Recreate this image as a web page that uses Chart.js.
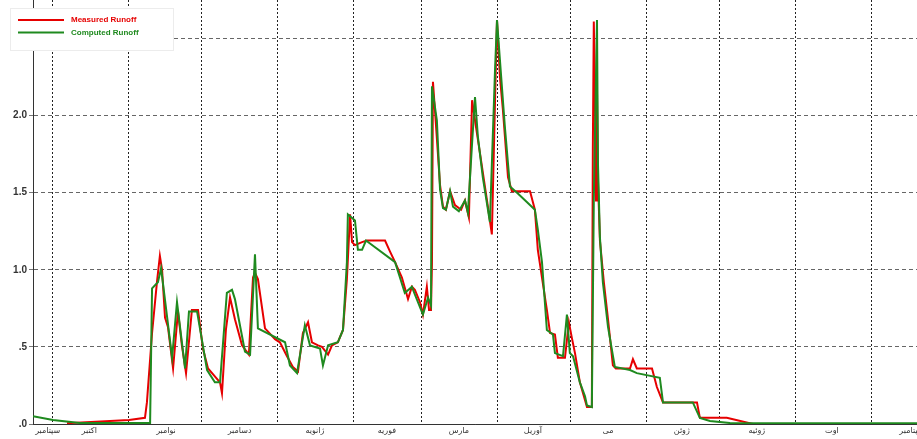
<!DOCTYPE html>
<html>
<head>
<meta charset="utf-8">
<script src="https://cdn.jsdelivr.net/npm/chart.js@4"></script>
<style>
  body { margin: 0; background: #fff; }
</style>
</head>
<body>
<canvas id="runoffChart" width="917" height="439"></canvas>
<script>
// day 0 = first day of the water year (late September)
const monthStarts = [8, 39, 69, 100, 131, 159, 190, 220, 251, 281, 312, 343];
const monthLabelDays = [6, 23, 54.4, 84.5, 115.3, 144.8, 174.2, 204.5, 235.2, 265.4, 296.1, 326.8, 359.5];
const monthNames = ["سپتامبر", "اکتبر", "نوامبر", "دسامبر", "ژانویه", "فوریه", "مارس",
  "آوریل", "می", "ژوئن", "ژوئیه", "اوت", "سپتامبر"];

const measuredDays = [
  13.9, 39.3, 45.8, 46.6, 48.7, 50.7, 51.9, 52.8, 54.0, 55.2,
  57.3, 59.3, 60.9, 62.6, 65.0, 67.5, 69.5, 71.6, 76.5, 77.3,
  78.9, 80.6, 82.6, 85.5, 88.3, 90.0, 90.8, 92.0, 94.9, 99.0,
  101.0, 103.9, 106.3, 108.4, 110.4, 112.5, 114.1, 116.6, 118.2, 120.7,
  122.3, 124.7, 126.8, 128.4, 129.7, 130.5, 131.7, 134.6, 136.6, 144.0,
  146.0, 148.1, 150.9, 153.4, 155.0, 156.2, 158.3, 159.5, 161.1, 162.0,
  162.8, 163.2, 163.6, 164.4, 166.5, 167.7, 168.9, 170.6, 172.6, 175.1,
  176.7, 178.3, 179.6, 180.8, 182.8, 185.7, 187.7, 189.0, 189.8, 191.0,
  192.2, 194.3, 195.9, 203.3, 205.3, 206.5, 208.2, 210.2, 211.5, 213.5,
  214.7, 217.6, 219.2, 220.4, 221.7, 223.7, 226.6, 228.6, 229.0, 229.4,
  229.9, 230.3, 230.7, 231.1, 231.9, 233.5, 235.2, 237.2, 238.4, 244.2,
  245.4, 247.0, 253.2, 255.2, 257.7, 271.6, 272.8, 283.8, 294.5
];
const measuredRunoff = [
  0.005, 0.026, 0.04, 0.14, 0.59, 0.92, 1.09, 1.00, 0.69, 0.63,
  0.36, 0.73, 0.51, 0.33, 0.74, 0.74, 0.49, 0.36, 0.27, 0.20,
  0.61, 0.82, 0.68, 0.51, 0.45, 0.95, 0.98, 0.94, 0.62, 0.55,
  0.53, 0.44, 0.37, 0.34, 0.59, 0.66, 0.53, 0.51, 0.50, 0.45,
  0.51, 0.53, 0.61, 0.94, 1.36, 1.18, 1.16, 1.18, 1.19, 1.19,
  1.12, 1.05, 0.95, 0.81, 0.89, 0.87, 0.79, 0.71, 0.89, 0.74,
  0.74, 1.05, 2.22, 2.04, 1.55, 1.41, 1.39, 1.51, 1.42, 1.39,
  1.45, 1.34, 2.10, 1.97, 1.76, 1.45, 1.23, 2.10, 2.62, 2.25,
  2.04, 1.60, 1.51, 1.51, 1.39, 1.13, 0.95, 0.74, 0.59, 0.58,
  0.43, 0.43, 0.66, 0.56, 0.46, 0.27, 0.11, 0.11, 1.78, 2.61,
  2.10, 1.45, 2.17, 1.58, 1.19, 0.92, 0.68, 0.38, 0.36, 0.36,
  0.42, 0.36, 0.36, 0.24, 0.14, 0.14, 0.04, 0.04, 0.0
];

const computedDays = [
  0, 8.2, 19.2, 47.9, 48.7, 51.1, 52.4, 56.9, 58.9, 62.2,
  63.8, 67.1, 71.2, 74.4, 76.5, 79.3, 81.4, 82.6, 86.7, 88.8,
  90.8, 92.0, 103.1, 105.1, 108.0, 111.2, 113.3, 117.4, 118.6, 120.7,
  124.7, 126.8, 128.4, 128.8, 131.7, 132.9, 134.6, 136.2, 148.1, 150.1,
  152.1, 155.0, 156.2, 159.5, 161.6, 162.8, 163.2, 165.2, 166.5, 167.7,
  168.9, 170.6, 171.8, 174.2, 176.7, 177.9, 179.6, 180.8, 182.0, 184.0,
  186.9, 189.0, 189.8, 191.0, 193.0, 195.1, 198.0, 202.0, 205.3, 206.5,
  208.2, 210.2, 212.7, 213.5, 216.8, 218.4, 219.6, 220.9, 223.7, 225.8,
  226.6, 228.6, 229.4, 230.7, 231.1, 231.9, 233.1, 235.2, 238.0, 244.2,
  247.0, 256.4, 257.7, 269.9, 272.8, 276.9, 285.1, 362
];
const computedRunoff = [
  0.05, 0.026, 0.006, 0.006, 0.88, 0.92, 1.01, 0.43, 0.79, 0.36,
  0.73, 0.73, 0.35, 0.27, 0.27, 0.85, 0.87, 0.81, 0.47, 0.45,
  1.10, 0.62, 0.53, 0.38, 0.33, 0.64, 0.51, 0.49, 0.38, 0.51,
  0.53, 0.61, 1.05, 1.36, 1.32, 1.13, 1.13, 1.19, 1.05, 0.95,
  0.85, 0.89, 0.84, 0.71, 0.82, 0.77, 2.19, 1.97, 1.52, 1.40,
  1.39, 1.51, 1.41, 1.38, 1.45, 1.37, 1.82, 2.12, 1.86, 1.60,
  1.31, 2.30, 2.62, 2.36, 1.93, 1.54, 1.50, 1.44, 1.39, 1.26,
  1.05, 0.61, 0.58, 0.46, 0.44, 0.71, 0.46, 0.44, 0.27, 0.18,
  0.12, 0.11, 1.45, 2.62, 1.69, 1.21, 0.92, 0.63, 0.37, 0.35,
  0.33, 0.30, 0.14, 0.14, 0.04, 0.02, 0.006, 0.005
];

const toPoints = (days, values) => days.map((d, i) => ({ x: d, y: values[i] }));

// legend drawn as a box on top of the plot, like the original
const legendBox = {
  id: "legendBox",
  afterDraw(chart) {
    const ctx = chart.ctx;
    ctx.save();
    ctx.fillStyle = "#fff";
    ctx.fillRect(10, 8, 163, 42);
    ctx.strokeStyle = "#ececec";
    ctx.lineWidth = 1;
    ctx.strokeRect(10.5, 8.5, 163, 42);
    chart.data.datasets.forEach((ds, i) => {
      const y = 20 + i * 12.5;
      ctx.strokeStyle = ds.borderColor;
      ctx.lineWidth = 2;
      ctx.beginPath();
      ctx.moveTo(18, y);
      ctx.lineTo(64, y);
      ctx.stroke();
      ctx.fillStyle = ds.borderColor;
      ctx.font = 'bold 8px "Liberation Sans", Arial, sans-serif';
      ctx.textBaseline = "middle";
      ctx.fillText(ds.label, 71, y);
    });
    ctx.restore();
  },
};

const runoffChart = new Chart(document.getElementById("runoffChart"), {
  type: "line",
  data: {
    datasets: [
      {
        label: "Measured Runoff",
        data: toPoints(measuredDays, measuredRunoff),
        borderColor: "#e60000",
        borderWidth: 2,
        pointRadius: 0,
        tension: 0,
        order: 1,
      },
      {
        label: "Computed Runoff",
        data: toPoints(computedDays, computedRunoff),
        borderColor: "#1f8a1f",
        borderWidth: 2,
        pointRadius: 0,
        tension: 0,
        order: 0,
      },
    ],
  },
  options: {
    responsive: false,
    animation: false,
    layout: { padding: 0 },
    plugins: {
      legend: { display: false },
      tooltip: { enabled: false },
    },
    scales: {
      x: {
        type: "linear",
        min: 0,
        max: 361.6,
        afterBuildTicks: (scale) => {
          scale.ticks = monthStarts
            .map((v) => ({ value: v }))
            .concat(monthLabelDays.map((v) => ({ value: v })));
        },
        afterFit: (scale) => {
          scale.height = 15;
          scale.paddingLeft = 0;
          scale.paddingRight = 0;
        },
        ticks: {
          autoSkip: false,
          maxRotation: 0,
          minRotation: 0,
          padding: 2,
          color: "#333",
          font: { family: '"DejaVu Sans", sans-serif', size: 8 },
          callback: (value) => {
            const i = monthLabelDays.indexOf(value);
            return i >= 0 ? monthNames[i] : "";
          },
        },
        grid: {
          drawTicks: false,
          color: (ctx) =>
            ctx.tick && monthStarts.includes(ctx.tick.value) ? "#222" : "rgba(0,0,0,0)",
        },
        border: { color: "#333", width: 1, dash: [2, 2] },
      },
      y: {
        min: 0,
        max: 2.75,
        afterFit: (scale) => {
          scale.width = 33;
          scale.paddingTop = 0;
          scale.paddingBottom = 0;
        },
        ticks: {
          stepSize: 0.5,
          includeBounds: false,
          padding: 2,
          color: "#333",
          font: { family: '"Liberation Sans", Arial, sans-serif', size: 10, weight: "bold" },
          callback: (value) => {
            const s = value.toFixed(1);
            return value < 1 ? s.slice(1) : s;
          },
        },
        grid: {
          color: "#666",
          tickLength: 4,
          tickColor: "#777",
          tickBorderDash: [],
        },
        border: { color: "#333", width: 1, dash: [4, 3] },
      },
    },
  },
  plugins: [legendBox],
});
</script>
</body>
</html>
